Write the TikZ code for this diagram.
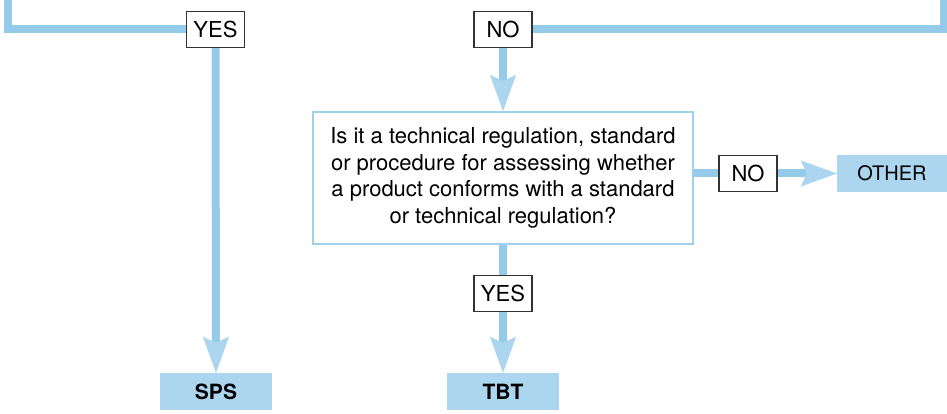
\documentclass[tikz,border=0pt]{standalone}
\usepackage{fontspec}
\setmainfont{TeX Gyre Heros}
\usetikzlibrary{arrows.meta,backgrounds}
\definecolor{linec}{HTML}{95CBEA}
\definecolor{fillc}{HTML}{ACD6EF}
\definecolor{qborder}{HTML}{9FD0EC}
\begin{document}
\begin{tikzpicture}[x=1pt,y=-1pt,
  lab/.style={draw=black!80,line width=1.2pt,fill=white,inner sep=0pt,
    minimum width=58pt,minimum height=36pt,font=\fontsize{22}{26}\selectfont},
  result/.style={fill=fillc,inner sep=0pt,minimum width=112pt,minimum height=37pt,
    font=\fontsize{21}{25}\selectfont\bfseries},
  conn/.style={draw=linec,line width=8pt},
  tip/.style={-{Stealth[length=36pt,width=26pt,inset=6pt,color=fillc,fill=fillc,line width=0.1pt]}}
]
\useasboundingbox (0,0) rectangle (947,414);
\node[lab] (yes1) at (215.5,29.5) {YES};
\node[lab] (no1) at (503,29.5) {NO};
\node[draw=qborder,line width=2pt,fill=white,minimum width=380pt,minimum height=132pt,
  inner sep=0pt,align=center,font=\fontsize{22}{26.7}\selectfont] (q) at (503,178)
  {Is it a technical regulation, standard\\or procedure for assessing whether\\a product conforms with a standard\\or technical regulation?};
\node[lab] (no2) at (748,173.5) {NO};
\node[result,minimum width=110pt,font=\fontsize{20}{24}\selectfont] (other) at (892,173.5) {OTHER};
\node[lab] (yes2) at (503,293.5) {YES};
\node[result] (sps) at (216,391.5) {SPS};
\node[result] (tbt) at (503,391.5) {TBT};
\coordinate (tl) at (8,0);
\coordinate (tr) at (944,0);
\begin{scope}[on background layer]
\draw[conn] (tl) |- (yes1.west);
\draw[conn] (tr) |- (no1.east);
\draw[conn,tip] (yes1.south) -- (sps.north);
\draw[conn,tip] (no1.south) -- (q.north);
\draw[conn] (q.south) -- (yes2.north);
\draw[conn,tip] (yes2.south) -- (tbt.north);
\draw[conn] (no2.west -| q.east) -- (no2.west);
\draw[conn,tip] (no2.east) -- (other.west);
\end{scope}
\end{tikzpicture}
\end{document}
